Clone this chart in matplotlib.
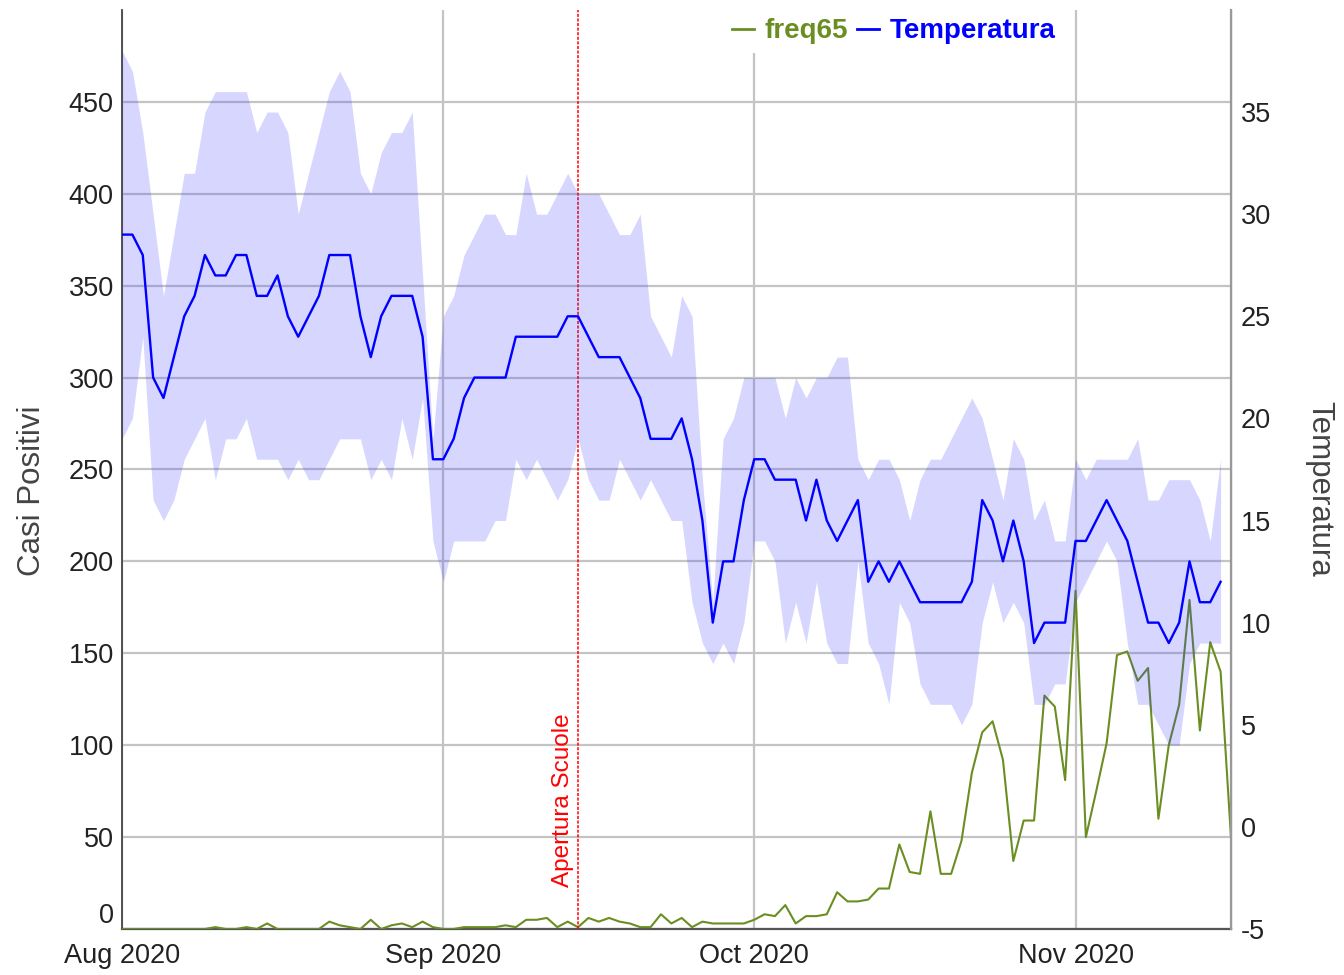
import numpy as np
import pandas as pd
import matplotlib
matplotlib.use("Agg")
import matplotlib.pyplot as plt
import matplotlib.dates as mdates
from matplotlib.lines import Line2D

plt.rcParams['font.family'] = ['Liberation Sans', 'DejaVu Sans']
plt.rcParams['axes.unicode_minus'] = False

# ---------------- data ----------------
temp_dates = pd.date_range("2020-08-01", "2020-11-15", freq="D")
freq_dates = pd.date_range("2020-08-01", "2020-11-16", freq="D")

temp_mean = [29, 29, 28, 22, 21, 23, 25, 26, 28, 27,
             27, 28, 28, 26, 26, 27, 25, 24, 25, 26,
             28, 28, 28, 25, 23, 25, 26, 26, 26, 24,
             18, 18, 19, 21, 22, 22, 22, 22, 24, 24,
             24, 24, 24, 25, 25, 24, 23, 23, 23, 22,
             21, 19, 19, 19, 20, 18, 15, 10, 13, 13,
             16, 18, 18, 17, 17, 17, 15, 17, 15, 14,
             15, 16, 12, 13, 12, 13, 12, 11, 11, 11,
             11, 11, 12, 16, 15, 13, 15, 13, 9, 10,
             10, 10, 14, 14, 15, 16, 15, 14, 12, 10,
             10, 9, 10, 13, 11, 11, 12]

temp_max = [38, 37, 34, 30, 26, 29, 32, 32, 35, 36,
            36, 36, 36, 34, 35, 35, 34, 30, 32, 34,
            36, 37, 36, 32, 31, 33, 34, 34, 35, 27,
            19, 25, 26, 28, 29, 30, 30, 29, 29, 32,
            30, 30, 31, 32, 31, 31, 31, 30, 29, 29,
            30, 25, 24, 23, 26, 25, 17, 11, 19, 20,
            22, 22, 22, 22, 20, 22, 21, 22, 22, 23,
            23, 18, 17, 18, 18, 17, 15, 17, 18, 18,
            19, 20, 21, 20, 18, 16, 19, 18, 15, 16,
            14, 14, 18, 17, 18, 18, 18, 18, 19, 16,
            16, 17, 17, 17, 16, 14, 18]

temp_min = [19, 20, 24, 16, 15, 16, 18, 19, 20, 17,
            19, 19, 20, 18, 18, 18, 17, 18, 17, 17,
            18, 19, 19, 19, 17, 18, 17, 20, 18, 21,
            14, 12, 14, 14, 14, 14, 15, 15, 18, 17,
            18, 17, 16, 17, 19, 17, 16, 16, 18, 17,
            16, 17, 16, 15, 15, 11, 9, 8, 9, 8,
            10, 14, 14, 13, 9, 11, 9, 12, 9, 8,
            8, 13, 9, 8, 6, 11, 10, 7, 6, 6,
            6, 5, 6, 10, 12, 10, 11, 10, 6, 6,
            7, 7, 11, 12, 13, 14, 13, 9, 6, 6,
            5, 4, 4, 8, 9, 9, 9]

freq65 = [0, 0, 0, 0, 0, 0, 0, 0, 0, 1,
          0, 0, 1, 0, 3, 0, 0, 0, 0, 0,
          4, 2, 1, 0, 5, 0, 2, 3, 1, 4,
          1, 0, 0, 1, 1, 1, 1, 2, 1, 5,
          5, 6, 1, 4, 1, 6, 4, 6, 4, 3,
          1, 1, 8, 3, 6, 1, 4, 3, 3, 3,
          3, 5, 8, 7, 13, 3, 7, 7, 8, 20,
          15, 15, 16, 22, 22, 46, 31, 30, 64, 30,
          30, 48, 85, 107, 113, 92, 37, 59, 59, 127,
          121, 81, 184, 50, 75, 101, 149, 151, 135, 142,
          60, 100, 122, 179, 108, 156, 140, 50]

school_open = pd.Timestamp("2020-09-14")

left_ticks = [0, 50, 100, 150, 200, 250, 300, 350, 400, 450]
right_ticks = [-5, 0, 5, 10, 15, 20, 25, 30, 35]
month_ticks = pd.to_datetime(["2020-08-01", "2020-09-01", "2020-10-01", "2020-11-01"])

# ---------------- figure ----------------
fig = plt.figure(figsize=(13.44, 9.75), dpi=100)
ax = fig.add_axes([0.0908, 0.0472, 0.8251, 0.9426])
ax2 = ax.twinx()

grid_col = "#c4c4c4"
ax.set_ylim(0, 500)
ax.set_yticks(left_ticks)
ax.set_xlim(pd.Timestamp("2020-08-01"), pd.Timestamp("2020-11-16"))
ax.set_xticks(month_ticks)
ax.xaxis.set_major_formatter(mdates.DateFormatter("%b %Y"))
ax.grid(True, color=grid_col, linewidth=1.6)
ax.set_axisbelow(True)

ax.plot(freq_dates, freq65, color="#6b8e23", linewidth=1.5, zorder=3)

ax2.set_ylim(-5, 40)
ax2.set_yticks(right_ticks)
ax2.fill_between(temp_dates, temp_min, temp_max, color="#3333ff",
                 alpha=0.2, linewidth=0, zorder=1)
ax2.plot(temp_dates, temp_mean, color="#0000ff", linewidth=1.7, zorder=2)

# school opening line
ax.axvline(school_open, color="red", linestyle=(0, (2, 1)), linewidth=1.1, zorder=4)
ax.annotate("Apertura Scuole", xy=(school_open, 23), xytext=(-3, 0),
            textcoords="offset points", rotation=90, ha="right", va="bottom",
            color="red", fontsize=17.5)

# spines / ticks
for a in (ax, ax2):
    a.spines["top"].set_visible(False)
ax.spines["left"].set_color("#444444")
ax.spines["bottom"].set_color("#555555")
ax.spines["left"].set_linewidth(1.3)
ax.spines["bottom"].set_linewidth(1.6)
ax2.spines["left"].set_visible(False)
ax2.spines["bottom"].set_visible(False)
ax2.spines["right"].set_color("#999999")
ax2.spines["right"].set_linewidth(1.6)

ax.tick_params(axis="both", length=0, labelsize=19.5, colors="#222222")
ax.tick_params(axis="x", pad=10)
ax.tick_params(axis="y", pad=6)
ax2.tick_params(axis="y", length=0, labelsize=19.5, colors="#222222", pad=7)
ax.get_yticklabels()[0].set_va("bottom")

ax.set_ylabel("Casi Positivi", fontsize=22.5, color="#444444")
ax.yaxis.set_label_coords(-0.068, 0.477)
ax2.set_ylabel("Temperatura", fontsize=22.5, color="#444444", rotation=270, va="bottom")
ax2.yaxis.set_label_coords(1.066, 0.479)

handles = [Line2D([], [], color="#6b8e23", linewidth=2),
           Line2D([], [], color="#0000ff", linewidth=2)]
leg = fig.legend(handles, ["freq65", "Temperatura"], loc="upper center",
                 bbox_to_anchor=(0.665, 1.004), ncol=2, frameon=True,
                 facecolor="white", edgecolor="none", framealpha=1,
                 handlelength=0.8, handletextpad=0.4, columnspacing=0.3,
                 borderpad=0.3, prop={"weight": "bold", "size": 20})
for t, c in zip(leg.get_texts(), ["#6b8e23", "#0000ff"]):
    t.set_color(c)

fig.savefig("out.png", dpi=100)
